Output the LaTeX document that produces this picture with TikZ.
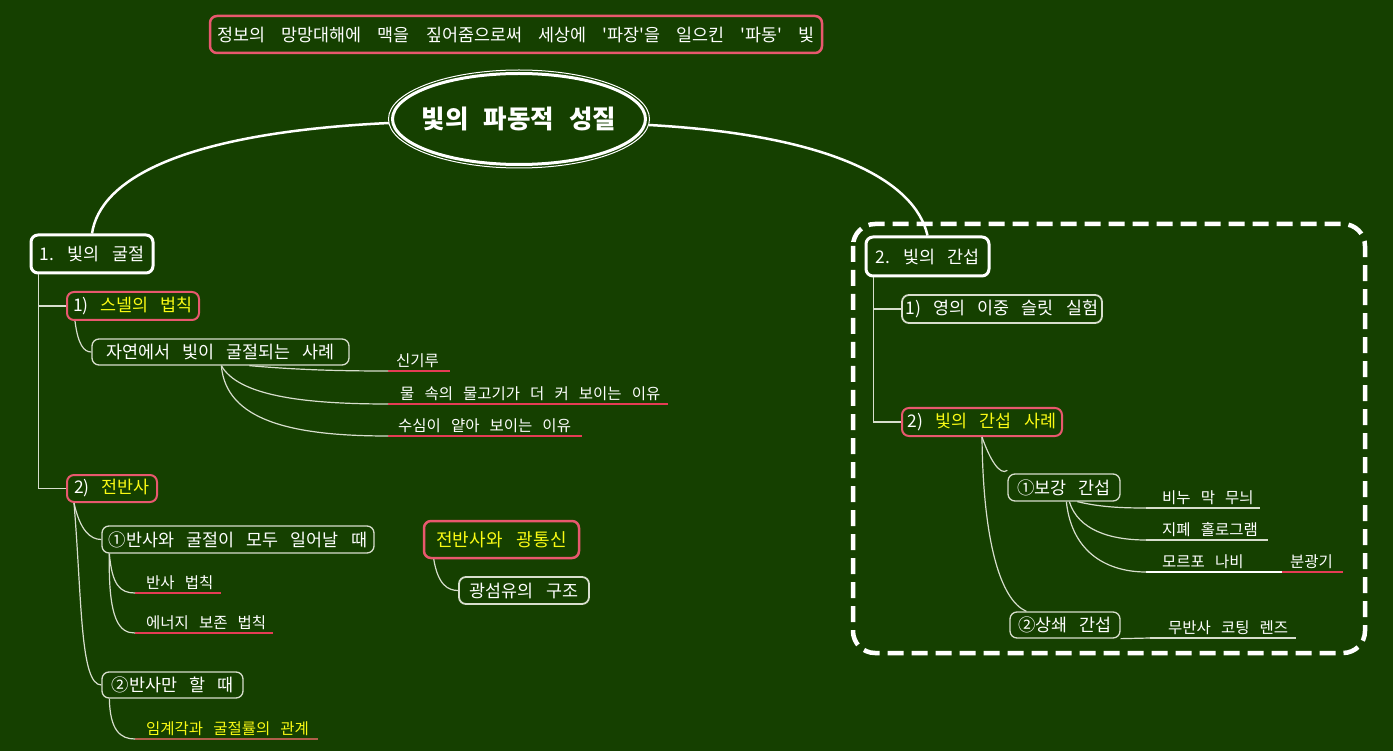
\documentclass[tikz,border=0pt]{standalone}
\usepackage{fontspec}
\setmainfont{Noto Sans CJK KR}[Ligatures=TeXOff]
\usetikzlibrary{shapes.geometric}
\definecolor{bg}{RGB}{21,64,0}
\definecolor{pinkb}{RGB}{232,88,110}
\definecolor{ylw}{RGB}{250,250,20}
\definecolor{lgray}{RGB}{215,222,205}
\definecolor{redl}{RGB}{228,60,85}
\definecolor{brownl}{RGB}{175,95,75}
\newcommand\nodefont{\fontsize{17.4}{20}\selectfont\spaceskip=0.7em\relax}
\newcommand\bannerfont{\fontsize{17.4}{20}\selectfont\spaceskip=0.93em\relax}
\newcommand\leaffont{\fontsize{15.5}{18}\selectfont\spaceskip=0.65em\relax}
\newcommand\rootfont{\fontsize{25.5}{28}\selectfont\bfseries\spaceskip=0.6em\relax}
\newcommand\tfont{\fontsize{18}{21}\selectfont\spaceskip=0.8em\relax}
\newcommand\lbox[3]{\makebox[#1pt][l]{\hspace{#2pt}#3}}
\begin{document}
\begin{tikzpicture}[x=1pt,y=-1pt,
  topbox/.style={draw=white, line width=3, rounded corners=7, text=white, font=\nodefont, inner sep=0},
  pinkbox/.style={draw=pinkb, line width=2, rounded corners=7, text=white, font=\nodefont, inner sep=0},
  subbox/.style={draw=lgray, line width=1.3, rounded corners=7, text=white, font=\nodefont, inner sep=0},
  conn/.style={draw=lgray, line width=1.2},
  main/.style={draw=white, line width=2.5},
  leaf/.style={anchor=south west, text=white, font=\leaffont, inner xsep=0, inner ysep=3},
  uline/.style={line width=1.3}]
\fill[bg] (0,0) rectangle (1393,751);

% banner
\node[pinkbox, line width=2.5, minimum width=612, minimum height=37, font=\bannerfont] (banner) at (516,34.5) {정보의 망망대해에 맥을 짚어줌으로써 세상에 '파장'을 일으킨 '파동' 빛};

% root
\node[text=white, font=\rootfont, inner sep=0] (root) at (519,119) {빛의 파동적 성질};
\draw[white, line width=3] (root.center) ellipse [x radius=126.5, y radius=45.5];
\draw[white, line width=1] (root.center) ellipse [x radius=130.5, y radius=49];

% dashed region
\draw[white, line width=4.5, dash pattern=on 16 off 8, rounded corners=22] (853,224) rectangle (1365,653);

% level 1
\node[topbox, minimum width=122, minimum height=38] (n1) at (92,254) {1. 빛의 굴절};
\node[topbox, minimum width=123, minimum height=39] (n2) at (927.5,256.5) {2. 빛의 간섭};
\draw[main] ([shift={(-130,4)}]root.center) .. controls (180,133) and (100,180) .. (n1.north);
\draw[main] ([shift={(130,6)}]root.center) .. controls (830,135) and (915,180) .. (n2.north);

% left branch
\node[pinkbox, minimum width=132, minimum height=28] (s1) at (133,306) {1) \textcolor{ylw}{스넬의 법칙}};
\node[subbox, minimum width=257, minimum height=26] (c1) at (220.5,352) {자연에서 빛이 굴절되는 사례};
\node[pinkbox, minimum width=90, minimum height=27] (s2) at (112,488.5) {2) \textcolor{ylw}{전반사}};
\node[subbox, minimum width=272, minimum height=27] (a1) at (238,539.5) {①반사와 굴절이 모두 일어날 때};
\node[subbox, minimum width=141, minimum height=26] (a2) at (172.5,685) {②반사만 할 때};
\node[pinkbox, line width=2.5, minimum width=155, minimum height=37, font=\tfont] (t1) at (501.5,539.5) {\textcolor{ylw}{전반사와 광통신}};
\node[subbox, line width=1.8, minimum width=130, minimum height=27] (t2) at (524,590.5) {광섬유의 구조};

\draw[conn] ([xshift=9]n1.south west) |- (s1.west);
\draw[conn] ([xshift=9]n1.south west) |- (s2.west);
\draw[conn] ([xshift=9]s1.south west) .. controls (78,345) and (84,352) .. (c1.west);
\draw[conn] ([xshift=8]s2.south west) .. controls (80,530) and (90,539.5) .. (a1.west);
\draw[conn] ([xshift=8]s2.south west) .. controls (82,600) and (80,685) .. (a2.west);
\draw[conn] ([xshift=11]t1.south west) .. controls (438,585) and (448,590.5) .. (t2.west);

% left leaves
\node[leaf] (l1) at (388,371) {\lbox{62}{8}{신기루}};
\node[leaf] (l2) at (388,404) {\lbox{280}{12}{물 속의 물고기가 더 커 보이는 이유}};
\node[leaf] (l3) at (388,436) {\lbox{194}{10}{수심이 얕아 보이는 이유}};
\node[leaf] (l4) at (135,593) {\lbox{86}{11}{반사 법칙}};
\node[leaf] (l5) at (135,633) {\lbox{138}{11}{에너지 보존 법칙}};
\node[leaf, text=ylw] (l6) at (135,739) {\lbox{183}{11}{임계각과 굴절률의 관계}};
\foreach \l in {l1,l2,l3,l4,l5}{\draw[uline, redl] (\l.south west) -- (\l.south east);}
\draw[uline, brownl] (l6.south west) -- (l6.south east);

\draw[conn] ([xshift=158]c1.south west) .. controls (300,370) and (340,371) .. (l1.south west);
\draw[conn] ([xshift=130]c1.south west) .. controls (238,395) and (300,404) .. (l2.south west);
\draw[conn] ([xshift=130]c1.south west) .. controls (226,420) and (290,436) .. (l3.south west);
\draw[conn] ([xshift=8]a1.south west) .. controls (112,585) and (120,593) .. (l4.south west);
\draw[conn] ([xshift=8]a1.south west) .. controls (108,622) and (120,633) .. (l5.south west);
\draw[conn] ([xshift=8]a2.south west) .. controls (110,730) and (120,739) .. (l6.south west);

% right branch
\node[subbox, line width=1.8, minimum width=200, minimum height=28] (r1) at (1002,309) {1) 영의 이중 슬릿 실험};
\node[pinkbox, minimum width=160, minimum height=28] (r2) at (982,422) {2) \textcolor{ylw}{빛의 간섭 사례}};
\node[subbox, minimum width=112, minimum height=27] (b1) at (1064,487.5) {①보강 간섭};
\node[subbox, minimum width=110, minimum height=26] (b2) at (1065,625) {②상쇄 간섭};

\draw[conn] ([xshift=9]n2.south west) |- (r1.west);
\draw[conn] ([xshift=9]n2.south west) |- (r2.west);
\draw[conn] ([xshift=81]r2.south west) .. controls (990,460) and (1000,476) .. ([yshift=3]b1.north west);
\draw[conn] ([xshift=81]r2.south west) .. controls (983,540) and (1000,600) .. ([xshift=17]b2.north west);

\node[leaf] (q1) at (1146,508) {\lbox{114}{16}{비누 막 무늬}};
\node[leaf] (q2) at (1146,540) {\lbox{122}{16}{지폐 홀로그램}};
\node[leaf] (q3) at (1146,572) {\lbox{136}{16}{모르포 나비}};
\node[leaf] (q4) at (1282,572) {\lbox{61}{8}{분광기}};
\node[leaf] (q5) at (1150,638) {\lbox{146}{18}{무반사 코팅 렌즈}};
\draw[uline, lgray] (q1.south west) -- (q1.south east);
\draw[uline, lgray] (q2.south west) -- (q2.south east);
\draw[uline, white] (q3.south west) -- (q3.south east);
\draw[uline, redl] (q4.south west) -- (q4.south east);
\draw[uline, lgray] (q5.south west) -- (q5.south east);

\draw[conn] ([xshift=70]b1.south west) .. controls (1100,507) and (1120,508) .. (q1.south west);
\draw[conn] ([xshift=62]b1.south west) .. controls (1078,530) and (1110,540) .. (q2.south west);
\draw[conn] ([xshift=59]b1.south west) .. controls (1072,555) and (1110,572) .. (q3.south west);
\draw[conn] (b2.south east) -- (q5.south west);
\end{tikzpicture}
\end{document}
